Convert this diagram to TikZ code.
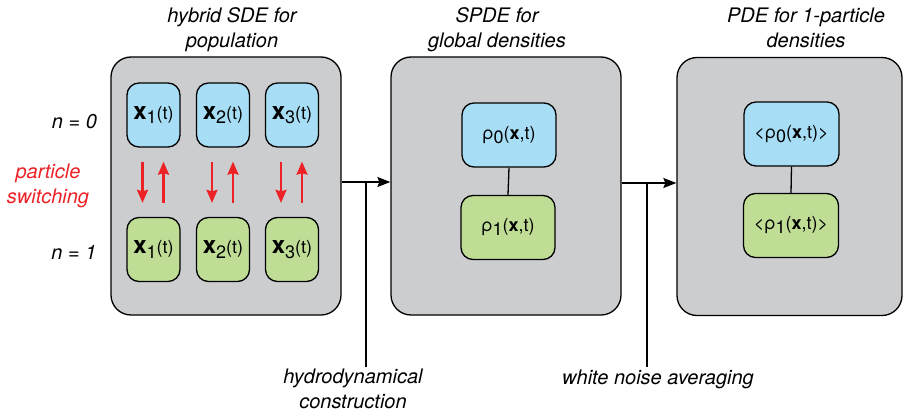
\documentclass[tikz,border=0pt]{standalone}
\usepackage{fontspec}
\setmainfont{TeX Gyre Heros}
\usetikzlibrary{arrows.meta}
\definecolor{panelgray}{RGB}{204,205,207}
\definecolor{stateblue}{RGB}{167,221,245}
\definecolor{stategreen}{RGB}{192,221,150}
\definecolor{switchred}{RGB}{236,34,39}
\newcommand{\xstate}[1]{{\fontsize{24}{24}\selectfont\bfseries x}\raisebox{-4.5pt}{#1}(t)}
\newcommand{\dens}[1]{ρ\raisebox{-4pt}{#1}(\textbf{x},t)}
\tikzset{
	panel/.style={draw,line width=1.3pt,fill=panelgray,rounded corners=20pt,minimum height=258pt,inner sep=0pt},
	statebox/.style={draw,line width=1.3pt,rounded corners=12pt,minimum height=64pt,inner sep=0pt,font=\fontsize{18}{18}\selectfont},
	caption/.style={align=center,inner sep=2pt,font=\fontsize{20}{25}\selectfont\itshape},
	flow/.style={-{Stealth[length=13pt,width=10pt,inset=2pt]},line width=1.3pt},
	flip/.style={-{Stealth[length=13pt,width=11pt,inset=1.5pt]},line width=2.2pt,draw=switchred}
}
\begin{document}
\begin{tikzpicture}[x=1pt,y=-1pt,line join=round]
		\useasboundingbox (0,0) rectangle (904,412);
		% the three panels
		\node[panel,minimum width=230pt] (pop) at (226,186) {};
		\node[panel,minimum width=230pt] (spde) at (506,186) {};
		\node[panel,minimum width=225pt] (pde) at (789.5,186.5) {};
		\node[caption] (poptitle) at (232,30) {hybrid SDE for\\population};
		\node[caption] (spdetitle) at (497,30) {SPDE for\\global densities};
		\node[caption] (pdetitle) at (806,28) {PDE for 1-particle\\densities};
		% particles in state n=0 and n=1
		\foreach \i/\xpos in {1/153.5,2/223,3/292}{
			\node[statebox,fill=stateblue,minimum width=53pt] (up\i) at (\xpos,115) {\xstate{\i}};
			\node[statebox,fill=stategreen,minimum width=53pt] (dn\i) at (\xpos,249.5) {\xstate{\i}};
			\draw[flip] ([xshift=-11pt,yshift=-14pt]up\i.south) -- ([xshift=-11pt,yshift=14pt]dn\i.north);
			\draw[flip] ([xshift=10pt,yshift=14pt]dn\i.north) -- ([xshift=10pt,yshift=-14pt]up\i.south);
		}
		\node[caption] (nzero) at (74.5,122) {n = 0};
		\node[caption,text=switchred] (switch) at (48,186) {particle\\switching};
		\node[caption] (none) at (74,252) {n = 1};
		% global densities
		\node[statebox,fill=stateblue,minimum width=94pt] (rhoa) at (509,135) {\dens{0}};
		\node[statebox,fill=stategreen,minimum width=94pt] (rhob) at (508,227.5) {\dens{1}};
		\draw[line width=1.3pt] (rhoa.south) -- (rhob.north);
		% averaged densities
		\node[statebox,fill=stateblue,minimum width=95pt] (avga) at (791.5,134) {<\dens{0}>};
		\node[statebox,fill=stategreen,minimum width=95pt] (avgb) at (791,225.5) {<\dens{1}>};
		\draw[line width=1.3pt] (avga.south) -- (avgb.north);
		% steps between panels
		\draw[flow] ([yshift=4pt]pop.east) -- ([yshift=4pt]spde.west);
		\draw[flow] ([yshift=3pt]spde.east) -- ([yshift=3.5pt]pde.west);
		\coordinate (hc) at (366,182);
		\coordinate (wn) at (647,183);
		\node[caption] (hydro) at (353,389) {hydrodynamical\\construction};
		\node[caption] (noise) at (658,379) {white noise averaging};
		\draw[line width=1.3pt] (hc) -- (hc |- hydro.north);
		\draw[line width=1.3pt] (wn) -- (wn |- noise.north);
\end{tikzpicture}
\end{document}
